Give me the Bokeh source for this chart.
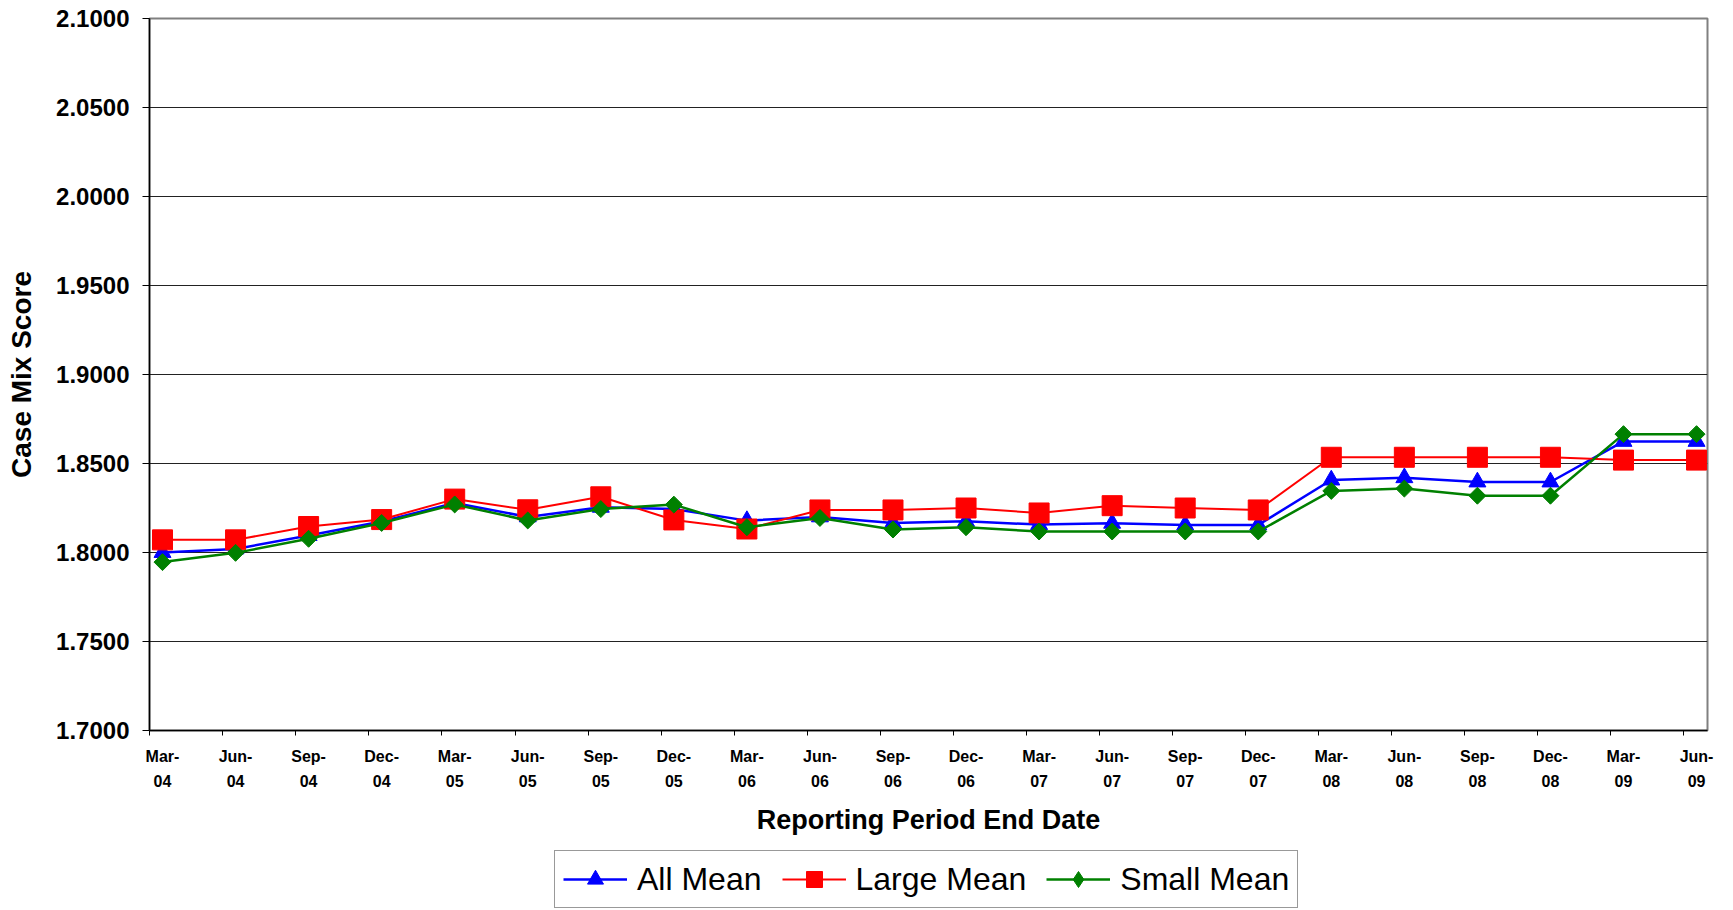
import math
from bokeh.plotting import figure
from bokeh.layouts import column
from bokeh.models import (FixedTicker, LinearAxis, Legend, LegendItem, Range1d,
                          CustomJSTickFormatter, ColumnDataSource)
from bokeh.embed import file_html
from bokeh.resources import INLINE

# ---- data -------------------------------------------------------------
periods = ["Mar-04", "Jun-04", "Sep-04", "Dec-04", "Mar-05", "Jun-05", "Sep-05", "Dec-05",
           "Mar-06", "Jun-06", "Sep-06", "Dec-06", "Mar-07", "Jun-07", "Sep-07", "Dec-07",
           "Mar-08", "Jun-08", "Sep-08", "Dec-08", "Mar-09", "Jun-09"]

all_mean = [1.8000, 1.8020, 1.8095, 1.8174, 1.8278, 1.8200, 1.8254, 1.8244,
            1.8179, 1.8200, 1.8166, 1.8175, 1.8157, 1.8164, 1.8155, 1.8155,
            1.8407, 1.8420, 1.8396, 1.8396, 1.8624, 1.8624]
large_mean = [1.8071, 1.8071, 1.8146, 1.8185, 1.8300, 1.8240, 1.8313, 1.8183,
              1.8132, 1.8239, 1.8239, 1.8250, 1.8222, 1.8263, 1.8250, 1.8239,
              1.8535, 1.8535, 1.8535, 1.8535, 1.8519, 1.8519]
small_mean = [1.7946, 1.7998, 1.8077, 1.8166, 1.8270, 1.8180, 1.8244, 1.8269,
              1.8142, 1.8194, 1.8129, 1.8142, 1.8118, 1.8118, 1.8118, 1.8118,
              1.8346, 1.8359, 1.8319, 1.8319, 1.8665, 1.8665]

y_ticks = [1.70, 1.75, 1.80, 1.85, 1.90, 1.95, 2.00, 2.05, 2.10]
y_tick_labels = ["1.7000", "1.7500", "1.8000", "1.8500", "1.9000", "1.9500",
                 "2.0000", "2.0500", "2.1000"]
x_tick_labels = [s.replace("-", "-\n") for s in periods]

series_names = ["All Mean", "Large Mean", "Small Mean"]

# ---- figure -----------------------------------------------------------
FONT = "Liberation Sans"
W = 1717
x = list(range(len(periods)))
src = ColumnDataSource(dict(x=x, all=all_mean, large=large_mean, small=small_mean))

p = figure(width=W, height=846, output_backend="svg", toolbar_location=None,
           x_range=Range1d(-0.178, len(periods) - 1 + 0.15),
           y_range=Range1d(y_ticks[0], y_ticks[-1]),
           x_axis_type=None,
           min_border_left=149, min_border_right=10, min_border_top=18,
           min_border_bottom=116)
p.background_fill_color = "white"
p.border_fill_color = "white"
p.outline_line_color = "#808080"
p.outline_line_width = 2

# y axis
yax = p.yaxis[0]
yax.ticker = FixedTicker(ticks=y_ticks)
yax.major_label_overrides = {t: l for t, l in zip(y_ticks, y_tick_labels)}
yax.minor_tick_line_color = None
yax.major_tick_in = 0
yax.major_tick_out = 7
yax.major_label_standoff = 13
yax.major_label_text_font = FONT
yax.major_label_text_font_style = "bold"
yax.major_label_text_font_size = "24px"
yax.major_label_text_color = "black"
yax.axis_line_color = "black"
yax.axis_line_width = 1.5
yax.major_tick_line_color = "black"
yax.axis_label = "Case Mix Score"
yax.axis_label_text_font = FONT
yax.axis_label_text_font_style = "bold"
yax.axis_label_text_font_size = "28px"
yax.axis_label_text_color = "black"
yax.axis_label_standoff = 16

p.ygrid.ticker = FixedTicker(ticks=y_ticks)
p.ygrid.grid_line_color = "#222222"
p.ygrid.grid_line_width = 1
p.xgrid.grid_line_color = None

# x axis: tick marks between (Excel-style offset), then labels
ax_ticks = LinearAxis(ticker=FixedTicker(ticks=[i - 0.174 for i in x]),
                      formatter=CustomJSTickFormatter(code="return ''"))
ax_ticks.major_label_text_font_size = "1px"
ax_ticks.major_label_standoff = 0
ax_ticks.major_tick_in = 0
ax_ticks.major_tick_out = 5
ax_ticks.minor_tick_line_color = None
ax_ticks.axis_line_color = "black"
ax_ticks.axis_line_width = 1.5
ax_ticks.major_tick_line_color = "black"
p.add_layout(ax_ticks, "below")

ax_lab = LinearAxis(ticker=FixedTicker(ticks=x))
ax_lab.major_label_overrides = {i: l for i, l in zip(x, x_tick_labels)}
ax_lab.axis_line_color = None
ax_lab.major_tick_line_color = None
ax_lab.minor_tick_line_color = None
ax_lab.major_tick_in = 0
ax_lab.major_tick_out = 0
ax_lab.major_label_standoff = 12
ax_lab.major_label_text_font = FONT
ax_lab.major_label_text_font_style = "bold"
ax_lab.major_label_text_font_size = "16px"
ax_lab.major_label_text_line_height = 1.52
ax_lab.major_label_text_color = "black"
ax_lab.axis_label = "Reporting Period End Date"
ax_lab.axis_label_text_font = FONT
ax_lab.axis_label_text_font_style = "bold"
ax_lab.axis_label_text_font_size = "27px"
ax_lab.axis_label_text_color = "black"
ax_lab.axis_label_standoff = 12
p.add_layout(ax_lab, "below")

# ---- series -----------------------------------------------------------
BLUE, RED, GREEN = "#0000FF", "#FF0000", "#008000"
p.line("x", "all", source=src, color=BLUE, line_width=2.5)
p.scatter("x", "all", source=src, marker="triangle", size=17, color=BLUE)
p.line("x", "large", source=src, color=RED, line_width=2)
p.scatter("x", "large", source=src, marker="square", size=20, color=RED)
p.line("x", "small", source=src, color=GREEN, line_width=2.5)
p.scatter("x", "small", source=src, marker="square", size=12,
          angle=math.pi / 4, color=GREEN)

# ---- legend (separate strip below the chart) ---------------------------
pl = figure(width=W, height=64, output_backend="svg", toolbar_location=None,
            x_axis_type=None, y_axis_type=None,
            x_range=Range1d(0, 1), y_range=Range1d(0, 1),
            min_border_left=0, min_border_right=0, min_border_top=0, min_border_bottom=0)
pl.outline_line_color = None
pl.background_fill_color = "white"
pl.border_fill_color = "white"
offscreen = ColumnDataSource(dict(x=[-10, -11], y=[-10, -11]))
la = pl.line("x", "y", source=offscreen, color=BLUE, line_width=2.5)
ma = pl.scatter("x", "y", source=offscreen, marker="triangle", size=16, color=BLUE)
lb = pl.line("x", "y", source=offscreen, color=RED, line_width=2)
mb = pl.scatter("x", "y", source=offscreen, marker="square", size=20, color=RED)
lc = pl.line("x", "y", source=offscreen, color=GREEN, line_width=2.5)
mc = pl.scatter("x", "y", source=offscreen, marker="diamond", size=17, color=GREEN)

legend = Legend(items=[LegendItem(label=series_names[0], renderers=[la, ma]),
                       LegendItem(label=series_names[1], renderers=[lb, mb]),
                       LegendItem(label=series_names[2], renderers=[lc, mc])],
                orientation="horizontal", location=(405, 2))
legend.label_text_font = FONT
legend.label_text_font_size = "32px"
legend.label_text_color = "black"
legend.glyph_width = 64
legend.glyph_height = 40
legend.label_standoff = 10
legend.spacing = 20
legend.padding = 8
legend.margin = 0
legend.border_line_color = "#333333"
legend.border_line_width = 1.5
legend.background_fill_color = "white"
pl.add_layout(legend, "center")

open("out.html", "w").write(file_html(column(p, pl), INLINE))
